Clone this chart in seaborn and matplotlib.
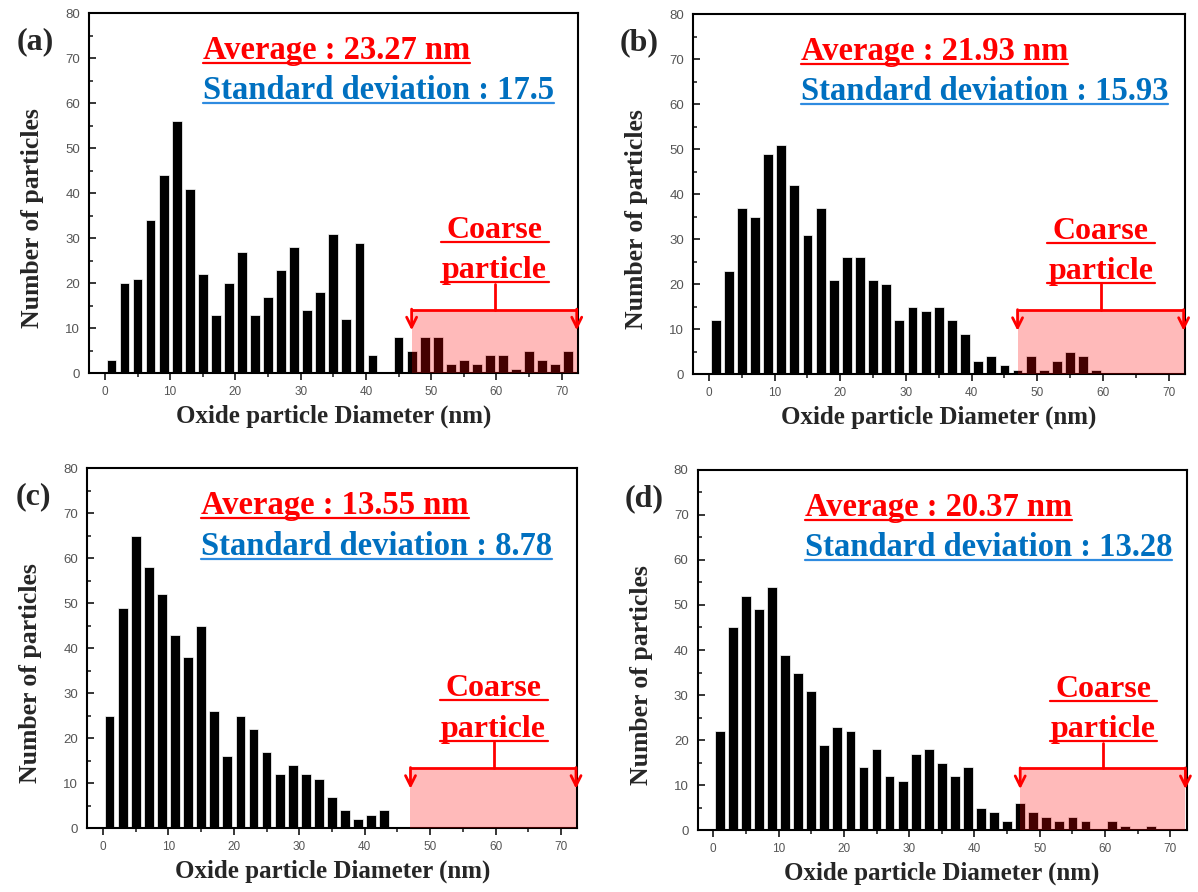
import numpy as np
import pandas as pd
import matplotlib
matplotlib.use("Agg")
import matplotlib.pyplot as plt
import seaborn as sns
from matplotlib.lines import Line2D
from matplotlib.patches import Rectangle
from matplotlib.ticker import MultipleLocator

sns.set_theme(style="ticks")
plt.rcParams["font.family"] = ["DejaVu Sans"]

# ---------------- data ----------------
bin_centers = np.arange(1, 73, 2)        # 2 nm bins, 0-72 nm
counts_a = [3, 20, 21, 34, 44, 56, 41, 22, 13, 20, 27, 13, 17, 23, 28, 14, 18, 31,
            12, 29, 4, 0, 8, 5, 8, 8, 2, 3, 2, 4, 4, 1, 5, 3, 2, 5]
counts_b = [12, 23, 37, 35, 49, 51, 42, 31, 37, 21, 26, 26, 21, 20, 12, 15, 14, 15,
            12, 9, 3, 4, 2, 1, 4, 1, 3, 5, 4, 1]
counts_c = [25, 49, 65, 58, 52, 43, 38, 45, 26, 16, 25, 22, 17, 12, 14, 12, 11, 7,
            4, 2, 3, 4]
counts_d = [22, 45, 52, 49, 54, 39, 35, 31, 19, 23, 22, 14, 18, 12, 11, 17, 18, 15,
            12, 14, 5, 4, 2, 6, 4, 3, 2, 3, 2, 0, 2, 1, 0, 1]
panel_labels = ["(a)", "(b)", "(c)", "(d)"]
averages = ["23.27", "21.93", "13.55", "20.37"]
std_devs = ["17.5", "15.93", "8.78", "13.28"]
x_label = "Oxide particle Diameter (nm)"
y_label = "Number of particles"
coarse_lines = ["Coarse", "particle"]

# ---------------- layout ----------------
W, H = 1198, 892
fig = plt.figure(figsize=(W / 100, H / 100), dpi=100)
rects = [
    [0.0745, 0.5818, 0.408, 0.4036],
    [0.5787, 0.5807, 0.4104, 0.4036],
    [0.0729, 0.0714, 0.409, 0.4036],
    [0.5823, 0.0695, 0.4083, 0.4036],
]
all_counts = [counts_a, counts_b, counts_c, counts_d]
SERIF = "Liberation Serif"
SANS = "Liberation Sans"
RED = "#FF0000"
BLUE = "#0070C0"
coarse_top = [14.1, 14.2, 13.4, 13.7]
coarse_left = 47.0
xmax = 72.5

texts_to_underline = []
for i, (rect, counts) in enumerate(zip(rects, all_counts)):
    ax = fig.add_axes(rect)
    n = len(counts)
    df = pd.DataFrame({"diameter": bin_centers[:n], "count": counts})
    sns.histplot(data=df, x="diameter", weights="count", binwidth=2,
                 binrange=(0, 2 * n), shrink=0.75,
                 color="black", edgecolor="white", linewidth=0.5, alpha=1.0, ax=ax)
    ax.set_xlim(-2.4, xmax)
    ax.set_ylim(0, 80)
    ax.xaxis.set_major_locator(MultipleLocator(10))
    ax.xaxis.set_minor_locator(MultipleLocator(5))
    ax.yaxis.set_major_locator(MultipleLocator(10))
    ax.yaxis.set_minor_locator(MultipleLocator(5))
    ax.tick_params(axis="x", which="major", direction="out", length=5, width=1.3,
                   labelsize=8.5, labelcolor="#555555", pad=4)
    ax.tick_params(axis="x", which="minor", direction="out", length=3, width=1.2)
    ax.tick_params(axis="y", which="major", direction="in", length=5, width=1.3,
                   labelsize=9.5, labelcolor="#555555", pad=6.5)
    ax.tick_params(axis="y", which="minor", direction="in", length=3, width=1.2)
    for lab in ax.get_xticklabels() + ax.get_yticklabels():
        lab.set_fontfamily(SANS)
    for sp in ax.spines.values():
        sp.set_linewidth(1.5)
        sp.set_color("black")
    ax.set_xlabel(x_label, fontfamily=SERIF, fontweight="bold", fontsize=18)
    ax.set_ylabel(y_label, fontfamily=SERIF, fontweight="bold", fontsize=18.5)
    ax.xaxis.set_label_coords(0.5, -0.088)
    ax.yaxis.set_label_coords(-0.092, 0.43)

    # coarse particle shaded region
    ct = coarse_top[i]
    ax.add_patch(Rectangle((coarse_left, 0), xmax - 0.2 - coarse_left, ct,
                           facecolor=RED, alpha=0.27, edgecolor="none", zorder=5))
    ax.plot([coarse_left, xmax - 0.2], [ct, ct], color=RED, lw=2, zorder=6,
            solid_capstyle="butt", clip_on=False)
    for xa in (coarse_left, xmax - 0.2):
        ax.annotate("", xy=(xa, ct - 4.6), xytext=(xa, ct + 0.1),
                    arrowprops=dict(arrowstyle="->", color=RED, lw=2,
                                    mutation_scale=18, shrinkA=0, shrinkB=0),
                    zorder=6, annotation_clip=False)
    xm = 59.7
    ax.plot([xm, xm], [ct, ct + 5.7], color=RED, lw=2, zorder=6)
    t1 = ax.text(xm, ct + 15.9, coarse_lines[0], color=RED, fontfamily=SERIF,
                 fontweight="bold", fontsize=23, ha="center", va="baseline", zorder=7)
    t2 = ax.text(xm, ct + 7.0, coarse_lines[1], color=RED, fontfamily=SERIF,
                 fontweight="bold", fontsize=23, ha="center", va="baseline", zorder=7)
    texts_to_underline.append((ax, t1, RED, 1.6, (51.5, 68.0)))
    texts_to_underline.append((ax, t2, RED, 1.6, (51.5, 68.0)))

    # statistics text
    xt = 15.0 if i % 2 == 0 else 14.0
    ta = ax.text(xt, 69.8, "Average : %s nm" % averages[i], color=RED,
                 fontfamily=SERIF, fontweight="bold", fontsize=23.5, ha="left",
                 va="baseline", zorder=7)
    ts = ax.text(xt, 60.8, "Standard deviation : %s" % std_devs[i], color=BLUE,
                 fontfamily=SERIF, fontweight="bold", fontsize=23.5, ha="left",
                 va="baseline", zorder=7)
    texts_to_underline.append((ax, ta, RED, 1.6, None))
    texts_to_underline.append((ax, ts, "#2E8BE0", 1.6, None))

    # panel label
    fig.text(rect[0] - 0.045, rect[1] + rect[3] - 0.032, panel_labels[i],
             fontfamily=SERIF, fontweight="bold", fontsize=23, ha="center",
             va="center")

# underlines
fig.canvas.draw()
renderer = fig.canvas.get_renderer()
for ax, t, col, lw, xr in texts_to_underline:
    bb = t.get_window_extent(renderer)
    x0, y0 = t.get_position()
    base = ax.transData.transform((x0, y0))[1] - 4
    if xr is None:
        px0, px1 = bb.x0, bb.x1
    else:
        px0 = ax.transData.transform((xr[0], 0))[0]
        px1 = ax.transData.transform((xr[1], 0))[0]
    fig.add_artist(Line2D([px0 / W, px1 / W], [base / H, base / H],
                          transform=fig.transFigure, color=col, lw=lw))

fig.savefig("out.png", dpi=100)
